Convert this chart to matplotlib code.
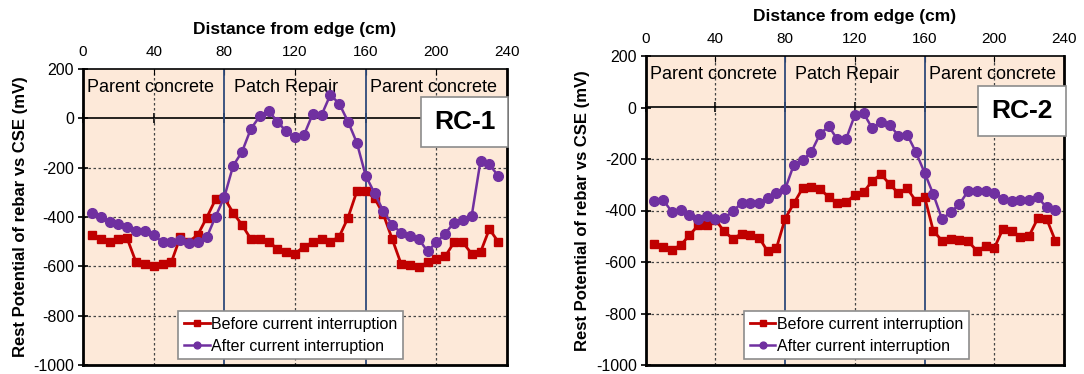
import matplotlib
matplotlib.use("Agg")
import matplotlib.pyplot as plt

plt.rcParams['font.family'] = ['Liberation Sans', 'DejaVu Sans']
plt.rcParams['axes.unicode_minus'] = False

distance = [5, 10, 15, 20, 25, 30, 35, 40, 45, 50, 55, 60, 65, 70, 75, 80,
            85, 90, 95, 100, 105, 110, 115, 120, 125, 130, 135, 140, 145, 150,
            155, 160, 165, 170, 175, 180, 185, 190, 195, 200, 205, 210, 215,
            220, 225, 230, 235]

rc1_before = [-472, -489, -500, -489, -487, -583, -592, -599, -589, -583, -483,
              -500, -472, -403, -329, -323, -383, -432, -489, -489, -500, -529,
              -543, -549, -520, -503, -489, -500, -480, -403, -296, -296, -323,
              -389, -489, -589, -596, -603, -583, -569, -560, -503, -503, -549,
              -543, -449, -500]
rc1_after = [-383, -400, -419, -429, -440, -456, -456, -472, -503, -503, -493,
             -505, -500, -483, -399, -319, -192, -136, -43, 8, 31, -13, -53,
             -77, -69, 17, 13, 95, 60, -13, -99, -232, -303, -376, -432, -463,
             -476, -489, -539, -503, -467, -423, -413, -396, -173, -187, -233]

rc2_before = [-530, -543, -552, -535, -497, -458, -458, -436, -481, -510, -490,
              -494, -505, -559, -546, -432, -372, -314, -307, -316, -348, -372,
              -368, -339, -329, -285, -259, -298, -333, -314, -363, -346, -479,
              -517, -510, -514, -520, -556, -539, -546, -471, -479, -503, -498,
              -430, -432, -517]
rc2_after = [-365, -359, -405, -399, -417, -433, -423, -432, -430, -403, -371,
             -372, -370, -353, -333, -317, -222, -205, -173, -103, -73, -124,
             -122, -29, -22, -81, -58, -68, -109, -105, -173, -253, -337, -433,
             -407, -375, -324, -324, -324, -333, -355, -364, -359, -359, -349,
             -388, -397]

zone_bounds = [80, 160]
zone_labels = ["Parent concrete", "Patch Repair", "Parent concrete"]
zone_label_x = [2.5, 85.5, 162.5]
x_ticks = [0, 40, 80, 120, 160, 200, 240]
y_ticks = [200, 0, -200, -400, -600, -800, -1000]
panel_names = ["RC-1", "RC-2"]
series_names = ["Before current interruption", "After current interruption"]

RED = "#c00000"
PURPLE = "#7030a0"
NAVY = "#2f4a7a"
BG = "#fde9d9"

fig = plt.figure(figsize=(10.84, 3.74), dpi=100)
rects = [
    [83/1084, 9/374, 424/1084, 296/374],
    [645.7/1084, 9/374, 418.3/1084, 309/374],
]

for i, (before, after) in enumerate([(rc1_before, rc1_after), (rc2_before, rc2_after)]):
    ax = fig.add_axes(rects[i])
    ax.set_facecolor(BG)
    ax.set_xlim(0, 240)
    ax.set_ylim(-1000, 200)

    # grid
    for xv in x_ticks[1:-1]:
        if xv not in zone_bounds:
            ax.axvline(xv, color="#444444", lw=0.9, ls=(0, (2, 2)), zorder=1)
    for yv in y_ticks[1:-1]:
        if yv != 0:
            ax.axhline(yv, color="#444444", lw=0.9, ls=(0, (2, 2)), zorder=1)
    for xb in zone_bounds:
        ax.axvline(xb, color=NAVY, lw=1.3, zorder=2)

    # zero axis line with ticks
    sec = ax.secondary_xaxis(1000 / 1200)
    sec.set_xticks(x_ticks)
    sec.tick_params(direction="inout", length=7, width=1.2, labelbottom=False,
                    labeltop=False, color="black")
    sec.spines["bottom"].set_linewidth(1.2)
    sec.spines["top"].set_linewidth(1.2)

    l1, = ax.plot(distance, before, color=RED, marker="s", ms=6, lw=2,
                  zorder=4, label=series_names[0])
    l2, = ax.plot(distance, after, color=PURPLE, marker="o", ms=7, lw=1.8,
                  zorder=5, label=series_names[1])

    ax.set_xticks(x_ticks)
    ax.set_yticks(y_ticks)
    ax.xaxis.tick_top()
    ax.xaxis.set_label_position("top")
    ax.tick_params(axis="x", direction="in", length=4, labelsize=11, pad=7)
    ax.tick_params(axis="y", direction="inout", length=7, width=1.2,
                   labelsize=11.5, pad=3)
    ax.set_xlabel("Distance from edge (cm)", fontsize=12.5, fontweight="bold",
                  labelpad=8)
    ax.set_ylabel("Rest Potential of rebar vs CSE (mV)", fontsize=12,
                  fontweight="bold", labelpad=4)
    for s in ["left", "bottom", "right"]:
        ax.spines[s].set_linewidth(2)
    ax.spines["top"].set_linewidth(1.2)
    for sp in ax.spines.values():
        sp.set_zorder(6)

    for lx, lt in zip(zone_label_x, zone_labels):
        ax.text(lx, 127, lt, fontsize=13, ha="left", va="center", zorder=3)

    ax.text(216, -14, panel_names[i], fontsize=19, fontweight="bold",
            ha="center", va="center", zorder=7,
            bbox=dict(boxstyle="square,pad=0.5", fc="white", ec="#8c8c8c",
                      lw=1.2))

    leg = ax.legend(handles=[l1, l2], loc="lower center",
                    bbox_to_anchor=(0.49 if i == 0 else 0.504, 0.003),
                    fontsize=11.5, frameon=True, fancybox=False,
                    edgecolor="#8c8c8c", framealpha=1, handlelength=1.6,
                    handletextpad=0.1, borderpad=0.35, labelspacing=0.45,
                    markerscale=0.7, borderaxespad=0.3)
    leg.get_frame().set_linewidth(1.2)
    leg.set_zorder(8)

fig.savefig("out.png", dpi=100)
